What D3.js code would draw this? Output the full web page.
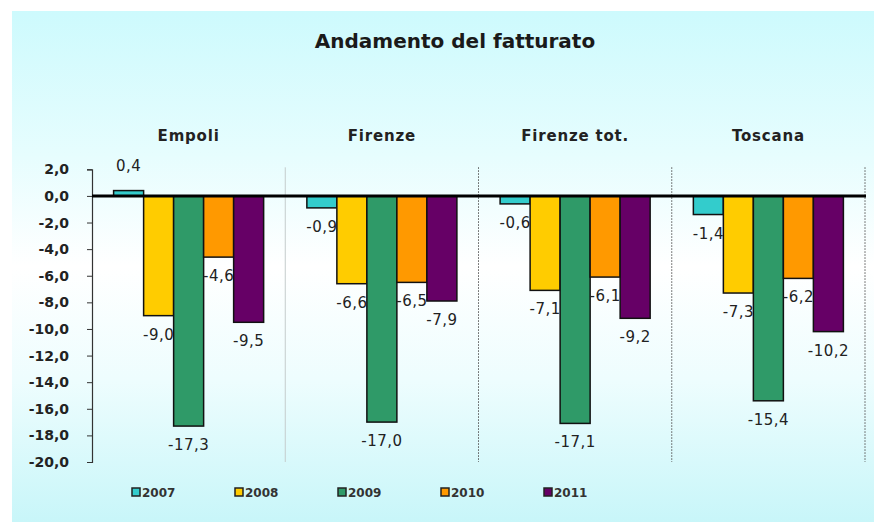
<!DOCTYPE html>
<html>
<head>
<meta charset="utf-8">
<script src="https://cdn.jsdelivr.net/npm/d3@7"></script>
<style>
  html, body { margin: 0; padding: 0; background: #fff; }
  svg { display: block; }
</style>
</head>
<body>
<div id="chart"></div>
<script>
const areas = ['Empoli', 'Firenze', 'Firenze tot.', 'Toscana']
const years = ['2007', '2008', '2009', '2010', '2011']
const v2007 = [0.4, -0.9, -0.6, -1.4]
const v2008 = [-9.0, -6.6, -7.1, -7.3]
const v2009 = [-17.3, -17.0, -17.1, -15.4]
const v2010 = [-4.6, -6.5, -6.1, -6.2]
const v2011 = [-9.5, -7.9, -9.2, -10.2]
const yTicks = [2, 0, -2, -4, -6, -8, -10, -12, -14, -16, -18, -20]
const colors = ['#33cccc', '#ffcc00', '#2f9a68', '#ff9900', '#660066']

const series = [v2007, v2008, v2009, v2010, v2011]
const width = 874
const height = 522

const svg = d3.select('#chart').append('svg')
    .attr('width', width)
    .attr('height', height)

// background gradient (cyan -> white -> cyan)
const grad = svg.append('defs').append('linearGradient')
    .attr('id', 'bg').attr('x1', 0).attr('y1', 0).attr('x2', 0).attr('y2', 1)
grad.selectAll('stop')
    .data([['0%', '#cdfafd'], ['28%', '#e6fdfe'], ['50%', '#ffffff'], ['72%', '#eefdfe'], ['100%', '#c8f6f9']])
    .enter().append('stop')
    .attr('offset', d => d[0])
    .attr('stop-color', d => d[1])

svg.append('rect')
    .attr('x', 12).attr('y', 11)
    .attr('width', width - 12).attr('height', height - 11)
    .attr('fill', 'url(#bg)')

const x = d3.scaleBand().domain(areas).range([92, 865])
const xInner = d3.scaleBand().domain(years).range([0, x.bandwidth()])
    .paddingInner(0).paddingOuter(0.72)
const y = d3.scaleLinear().domain([-20, 2]).range([462, 169.3])

const fmt = v => d3.format('.1f')(v).replace('.', ',').replace('−', '-')

// title
svg.append('text')
    .attr('x', 455).attr('y', 48)
    .attr('text-anchor', 'middle')
    .style('font-family', 'DejaVu Sans, sans-serif')
    .style('font-weight', 'bold')
    .style('font-size', '20px')
    .attr('fill', '#1a1a1a')
    .text('Andamento del fatturato')

// area headers
svg.append('g').selectAll('text')
    .data(areas)
    .enter().append('text')
    .attr('x', d => x(d) + x.bandwidth() / 2)
    .attr('y', 141)
    .attr('text-anchor', 'middle')
    .style('font-family', 'DejaVu Sans, sans-serif')
    .style('font-weight', 'bold')
    .style('font-size', '15px')
    .style('letter-spacing', '0.8px')
    .attr('fill', '#222')
    .text(d => d)

// separators between panels
svg.append('g').selectAll('line')
    .data(areas)
    .enter().append('line')
    .attr('x1', d => x(d) + x.bandwidth())
    .attr('x2', d => x(d) + x.bandwidth())
    .attr('y1', y(2) - 2)
    .attr('y2', y(-20))
    .attr('stroke', (d, i) => i === 0 ? '#c4cccc' : '#555')
    .attr('stroke-width', 1)
    .attr('stroke-dasharray', (d, i) => i === 0 ? null : '1.5,1.5')

// y axis
const yAxis = svg.append('g')
    .attr('transform', 'translate(92,0)')
    .call(d3.axisLeft(y).tickValues(yTicks).tickFormat(fmt).tickSize(5).tickPadding(18))
yAxis.select('.domain').attr('stroke', '#333').attr('stroke-width', 1.2)
yAxis.selectAll('.tick line').attr('stroke', '#333')
yAxis.selectAll('.tick text')
    .style('font-family', 'DejaVu Sans, sans-serif')
    .style('font-weight', 'bold')
    .style('font-size', '14px')
    .attr('fill', '#222')

// bars
const barData = []
areas.forEach((a, i) => {
    years.forEach((yr, j) => {
        barData.push({ area: a, year: yr, value: series[j][i], color: colors[j] })
    })
})

svg.append('g').selectAll('rect')
    .data(barData)
    .enter().append('rect')
    .attr('x', d => x(d.area) + xInner(d.year))
    .attr('width', xInner.bandwidth())
    .attr('y', d => y(Math.max(0, d.value)))
    .attr('height', d => Math.abs(y(d.value) - y(0)))
    .attr('fill', d => d.color)
    .attr('stroke', '#111')
    .attr('stroke-width', 1.5)

// zero line
svg.append('line')
    .attr('x1', 92).attr('x2', 866)
    .attr('y1', y(0)).attr('y2', y(0))
    .attr('stroke', '#000')
    .attr('stroke-width', 3)

// value labels
svg.append('g').selectAll('text')
    .data(barData)
    .enter().append('text')
    .attr('x', d => x(d.area) + xInner(d.year) + xInner.bandwidth() / 2)
    .attr('y', d => d.value >= 0 ? y(d.value) - 20 : y(d.value) + 24)
    .attr('text-anchor', 'middle')
    .style('font-family', 'DejaVu Sans, sans-serif')
    .style('font-size', '15px')
    .style('letter-spacing', '0.5px')
    .attr('fill', '#222')
    .text(d => fmt(d.value))

// legend
const legend = svg.append('g').selectAll('g')
    .data(years)
    .enter().append('g')
    .attr('transform', (d, i) => `translate(${132 + i * 103},492)`)
legend.append('rect')
    .attr('x', 0).attr('y', -4)
    .attr('width', 8).attr('height', 8)
    .attr('fill', (d, i) => colors[i])
    .attr('stroke', '#222')
    .attr('stroke-width', 1.5)
legend.append('text')
    .attr('x', 10).attr('y', 5)
    .style('font-family', 'DejaVu Sans, sans-serif')
    .style('font-weight', 'bold')
    .style('font-size', '12px')
    .attr('fill', '#333')
    .text(d => d)
</script>
</body>
</html>
